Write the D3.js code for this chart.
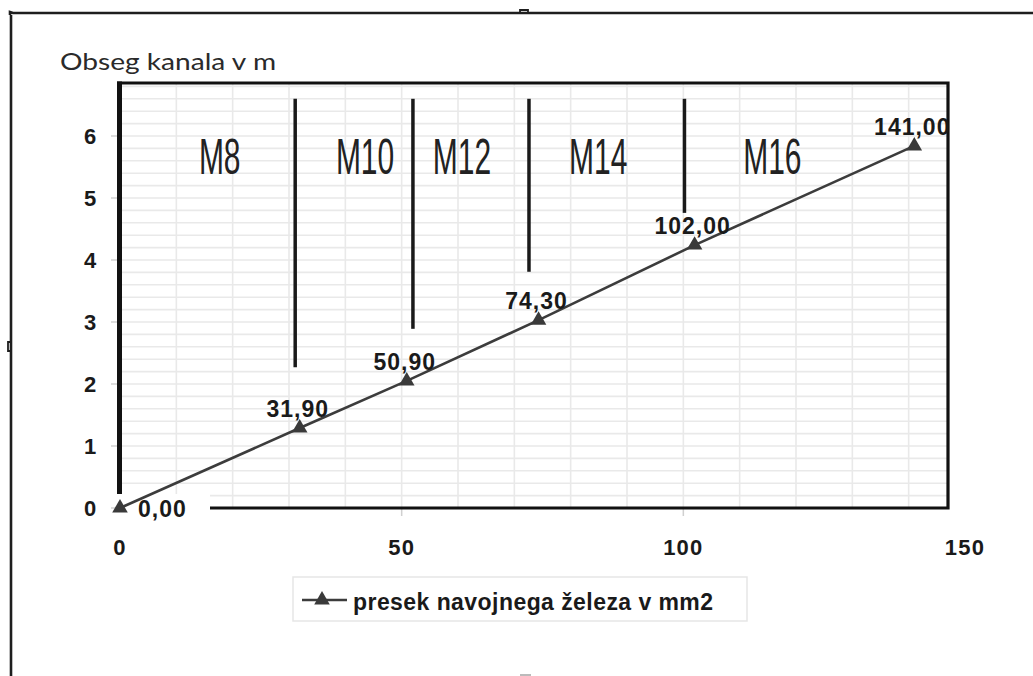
<!DOCTYPE html>
<html>
<head>
<meta charset="utf-8">
<script src="https://cdn.jsdelivr.net/npm/d3@7/dist/d3.min.js"></script>
<style>
  html, body { margin: 0; padding: 0; background: #ffffff; }
  svg { display: block; }
</style>
</head>
<body>
<svg id="chart" width="1033" height="676"></svg>
<script>
// ---- data ----
const xValues = [0, 31.9, 50.9, 74.3, 102, 141];
const yValues = [0, 1.29, 2.05, 3.03, 4.24, 5.84];
const pointLabels = ["0,00", "31,90", "50,90", "74,30", "102,00", "141,00"];
const xTicks = [0, 50, 100, 150];
const yTicks = [0, 1, 2, 3, 4, 5, 6];
const sizeNames = ["M8", "M10", "M12", "M14", "M16"];
const sizeNameX = [17.7, 43.5, 60.7, 84.9, 115.8];
const dividerX = [31.1, 52.0, 72.6, 100.2];
const dividerBottom = [2.27, 2.89, 3.81, 4.76];
const dividerTop = 6.6;
const yTitle = "Obseg kanala v m";
const seriesName = "presek navojnega železa v mm2";

// ---- layout ----
const W = 1033, H = 676;
const plot = { left: 120, right: 948, top: 83, bottom: 508 };
const svg = d3.select("#chart");

const x = d3.scaleLinear().domain([0, 150]).range([120, 965]);
const y = d3.scaleLinear().domain([0, 6]).range([508, 136]);

// outer frame (document box)
const frame = svg.append("g").attr("stroke", "#1e1e1e").attr("fill", "none").attr("stroke-width", 2.6);
frame.append("path").attr("d", "M10,15 L10,12 L13,13 L1033,13");
frame.append("path").attr("d", "M11,15 L11,676");
frame.append("path").attr("d", "M520,13 L520,10 L528,10 L528,13").attr("stroke-width", 1.8);
frame.append("path").attr("d", "M11,342 L8,342 L8,351 L11,351").attr("stroke-width", 1.8);
svg.append("line").attr("x1", 520).attr("x2", 531).attr("y1", 675).attr("y2", 675)
  .attr("stroke", "#bbb").attr("stroke-width", 2);

// gridlines
const grid = svg.append("g").attr("stroke", "#e9e9e9").attr("stroke-width", 1.6);
d3.range(10, 147, 10).forEach(v => {
  grid.append("line").attr("x1", x(v)).attr("x2", x(v)).attr("y1", plot.top).attr("y2", plot.bottom);
});
d3.range(1, 35).map(i => i * 0.2).forEach(v => {
  grid.append("line").attr("x1", plot.left).attr("x2", plot.right).attr("y1", y(v)).attr("y2", y(v));
});

// faint tick marks
const tk = svg.append("g").attr("stroke", "#d0d0d0").attr("stroke-width", 1.5);
yTicks.forEach(v => tk.append("line").attr("x1", 111).attr("x2", 117).attr("y1", y(v)).attr("y2", y(v)));
xTicks.filter(v => x(v) < plot.right).forEach(v => tk.append("line").attr("x1", x(v)).attr("x2", x(v)).attr("y1", 509).attr("y2", 516));

// plot frame
const pf = svg.append("g").attr("stroke", "#111").attr("fill", "none");
pf.append("path").attr("d", `M${plot.left - 3},${plot.top} L${plot.right},${plot.top} L${plot.right},${plot.bottom} L${plot.left},${plot.bottom}`)
  .attr("stroke-width", 3.2);
pf.append("line").attr("x1", plot.left - 0.5).attr("x2", plot.left - 0.5).attr("y1", plot.top - 1.5).attr("y2", plot.bottom)
  .attr("stroke-width", 5);

// white background behind the first data label
svg.append("rect").attr("x", 116).attr("y", 494).attr("width", 94).attr("height", 28).attr("fill", "#ffffff");

// divider lines
svg.append("g").selectAll("line").data(dividerX).join("line")
  .attr("x1", d => x(d)).attr("x2", d => x(d))
  .attr("y1", y(dividerTop)).attr("y2", (d, i) => y(dividerBottom[i]))
  .attr("stroke", "#1a1a1a").attr("stroke-width", 3.5);

// size labels
svg.append("g").selectAll("text").data(sizeNames).join("text")
  .attr("transform", (d, i) => `translate(${x(sizeNameX[i])},174) scale(0.6,1)`)
  .attr("text-anchor", "middle")
  .attr("font-family", "Liberation Sans, Arial, sans-serif")
  .attr("font-size", 50)
  .attr("fill", "#222")
  .text(d => d);

// series line
const pts = xValues.map((v, i) => [v, yValues[i]]);
svg.append("path").datum(pts)
  .attr("d", d3.line().x(d => x(d[0])).y(d => y(d[1])))
  .attr("fill", "none").attr("stroke", "#3c3c3c").attr("stroke-width", 2.6);

const tri = d3.symbol().type(d3.symbolTriangle).size(105);
svg.append("g").selectAll("path").data(pts).join("path")
  .attr("transform", d => `translate(${x(d[0])},${y(d[1])})`)
  .attr("d", tri).attr("fill", "#3a3a3a");

// data labels
svg.append("g").selectAll("text").data(pts).join("text")
  .attr("x", (d, i) => i === 0 ? x(d[0]) + 18 : x(d[0]) - 2)
  .attr("y", (d, i) => i === 0 ? y(d[1]) + 9 : y(d[1]) - 11)
  .attr("text-anchor", (d, i) => i === 0 ? "start" : "middle")
  .attr("font-family", "Liberation Sans, Arial, sans-serif")
  .attr("font-weight", "bold")
  .attr("font-size", 23)
  .attr("letter-spacing", 1)
  .attr("fill", "#1a1a1a")
  .text((d, i) => pointLabels[i]);

// axis tick labels
svg.append("g").selectAll("text").data(yTicks).join("text")
  .attr("x", 90).attr("y", d => y(d) + 8)
  .attr("text-anchor", "middle")
  .attr("font-family", "Liberation Sans, Arial, sans-serif")
  .attr("font-weight", "bold").attr("font-size", 22).attr("fill", "#1a1a1a")
  .text(d => d);
svg.append("g").selectAll("text").data(xTicks).join("text")
  .attr("x", d => x(d)).attr("y", 555)
  .attr("text-anchor", "middle")
  .attr("font-family", "Liberation Sans, Arial, sans-serif")
  .attr("font-weight", "bold").attr("font-size", 22).attr("letter-spacing", 1.2).attr("fill", "#1a1a1a")
  .text(d => d);

// y title
svg.append("text").attr("x", 60).attr("y", 70)
  .attr("font-family", "Lato, 'Open Sans', sans-serif").attr("font-weight", 400)
  .attr("font-size", 23).attr("fill", "#2a2a2a")
  .attr("textLength", 216).attr("lengthAdjust", "spacingAndGlyphs")
  .text(yTitle);

// legend
const lg = svg.append("g");
lg.append("rect").attr("x", 293).attr("y", 577).attr("width", 454).attr("height", 44)
  .attr("fill", "#ffffff").attr("stroke", "#e6e6e6").attr("stroke-width", 1.5);
lg.append("line").attr("x1", 302).attr("x2", 347).attr("y1", 600).attr("y2", 600)
  .attr("stroke", "#3c3c3c").attr("stroke-width", 2.6);
lg.append("path").attr("transform", "translate(322,600)").attr("d", tri).attr("fill", "#3a3a3a");
lg.append("text").attr("x", 353).attr("y", 610)
  .attr("font-family", "Liberation Sans, Arial, sans-serif")
  .attr("font-weight", "bold").attr("font-size", 23).attr("fill", "#1a1a1a")
  .attr("textLength", 360).attr("lengthAdjust", "spacing")
  .text(seriesName);
</script>
</body>
</html>
